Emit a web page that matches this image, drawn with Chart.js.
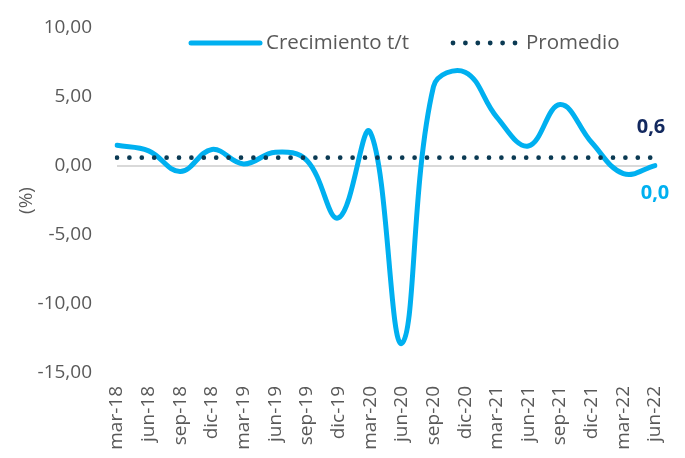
<!DOCTYPE html>
<html>
<head>
<meta charset="utf-8">
<script src="https://cdn.jsdelivr.net/npm/chart.js@4.4.0/dist/chart.umd.min.js"></script>
<style>
  html, body { margin: 0; padding: 0; background: #fff; }
  #wrap { width: 685px; height: 458px; }
</style>
</head>
<body>
<div id="wrap"><canvas id="growthChart"></canvas></div>
<script>
const quarters = ["mar-18", "jun-18", "sep-18", "dic-18", "mar-19", "jun-19", "sep-19", "dic-19", "mar-20",
  "jun-20", "sep-20", "dic-20", "mar-21", "jun-21", "sep-21", "dic-21", "mar-22", "jun-22"];
const growth = [1.5, 1.1, -0.4, 1.2, 0.15, 1.0, 0.4, -3.75, 2.45, -12.85, 5.75, 6.8, 3.55, 1.45, 4.45, 1.7, -0.55, 0.03];
const average = [0.6, 0.6, 0.6, 0.6, 0.6, 0.6, 0.6, 0.6, 0.6, 0.6, 0.6, 0.6, 0.6, 0.6, 0.6, 0.6, 0.6, 0.6];
const yMin = -15;
const yMax = 10;
const yStep = 5;

const BLUE = "#00B0F0";
const NAVY = "#0B3A53";
const TEXT = "#595959";
const FONT = "'Open Sans', sans-serif";

const fmt = (v, d) => v.toFixed(d).replace(".", ",");

// legend + end labels drawn on top
const extras = {
  id: "extras",
  afterDraw(chart) {
    const ctx = chart.ctx;
    const ly = 43;
    ctx.save();

    // legend: Crecimiento t/t
    ctx.strokeStyle = BLUE;
    ctx.lineWidth = 5;
    ctx.lineCap = "round";
    ctx.beginPath();
    ctx.moveTo(191, ly);
    ctx.lineTo(260, ly);
    ctx.stroke();
    ctx.fillStyle = TEXT;
    ctx.font = "20.5px " + FONT;
    ctx.textBaseline = "middle";
    ctx.textAlign = "left";
    ctx.fillText("Crecimiento t/t", 266, ly);

    // legend: Promedio
    ctx.fillStyle = NAVY;
    for (let i = 0; i < 6; i++) {
      ctx.beginPath();
      ctx.arc(453 + i * 12.4, ly, 2.4, 0, Math.PI * 2);
      ctx.fill();
    }
    ctx.fillStyle = TEXT;
    ctx.fillText("Promedio", 526, ly);

    // end-of-series labels
    const last = quarters.length - 1;
    const pAvg = chart.getDatasetMeta(1).data[last];
    const pGrowth = chart.getDatasetMeta(0).data[last];
    ctx.font = "bold 20px " + FONT;
    ctx.textAlign = "center";
    ctx.fillStyle = "#12285E";
    ctx.fillText(fmt(average[last], 1), pAvg.x - 4, pAvg.y - 30);
    ctx.fillStyle = BLUE;
    ctx.fillText(fmt(growth[last], 1), pGrowth.x, pGrowth.y + 28);
    ctx.restore();
  }
};

const ctx = document.getElementById("growthChart").getContext("2d");
new Chart(ctx, {
  type: "line",
  data: {
    labels: quarters,
    datasets: [{
      label: "Crecimiento t/t",
      data: growth,
      borderColor: BLUE,
      backgroundColor: BLUE,
      borderWidth: 5,
      borderCapStyle: "round",
      pointRadius: 0,
      tension: 0.4,
      order: 2
    }, {
      label: "Promedio",
      data: average,
      borderColor: NAVY,
      borderWidth: 4.7,
      borderDash: [0, 12.4],
      borderCapStyle: "round",
      pointRadius: 0,
      order: 1
    }]
  },
  options: {
    responsive: true,
    maintainAspectRatio: false,
    animation: false,
    layout: { padding: { left: 0, right: 30, top: 28, bottom: 0 } },
    plugins: {
      legend: { display: false },
      tooltip: { enabled: false }
    },
    scales: {
      x: {
        offset: false,
        // invisible grid, only used to push the labels down
        grid: { display: true, color: "transparent", tickColor: "transparent", drawTicks: true, tickLength: 10 },
        border: { display: false },
        ticks: {
          color: TEXT,
          font: { family: FONT, size: 19 },
          maxRotation: 90,
          minRotation: 90,
          autoSkip: false,
          padding: 3
        },
        afterFit(scale) { scale.height = 85; }
      },
      y: {
        min: yMin,
        max: yMax,
        grid: {
          drawTicks: true,
          tickLength: 22,
          tickColor: "transparent",
          lineWidth: 2,
          color: c => (c.tick && c.tick.value === 0 ? "#D9D9D9" : "transparent")
        },
        border: { display: false },
        ticks: {
          stepSize: yStep,
          color: TEXT,
          font: { family: FONT, size: 19 },
          padding: 3,
          callback: v => fmt(v, 2)
        },
        title: {
          display: true,
          text: "(%)",
          color: TEXT,
          font: { family: FONT, size: 19 },
          padding: { top: 15, bottom: 0 }
        },
        afterFit(scale) { scale.width = 117; }
      }
    }
  },
  plugins: [extras]
});
</script>
</body>
</html>
